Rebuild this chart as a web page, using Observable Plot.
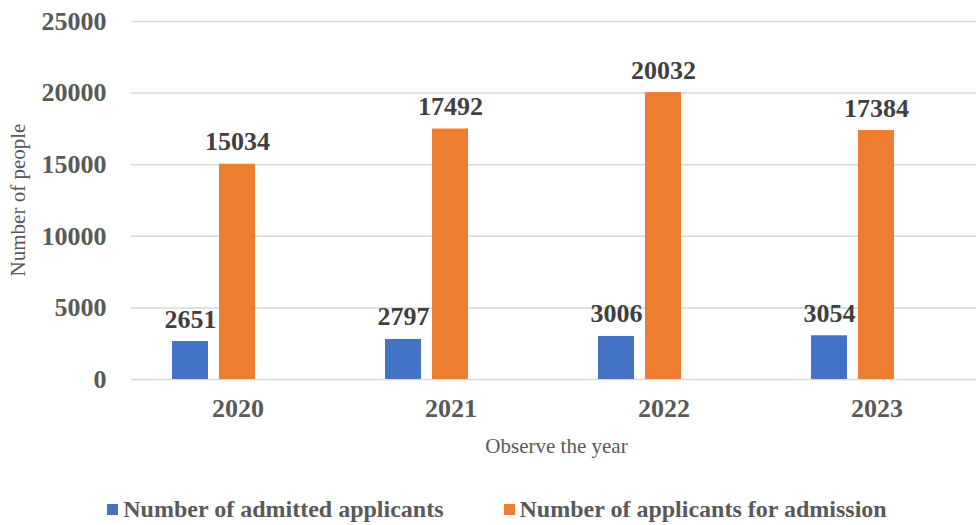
<!DOCTYPE html>
<html>
<head>
<meta charset="utf-8">
<script src="https://cdn.jsdelivr.net/npm/d3@7"></script>
<script src="https://cdn.jsdelivr.net/npm/@observablehq/plot@0.6"></script>
<style>
  body { margin: 0; background: #fff; font-family: "Liberation Serif", "Times New Roman", serif; }
  #legend { display: flex; justify-content: center; gap: 60px; margin-top: 36px; padding-left: 18px; }
  .item { display: flex; align-items: center; font-weight: bold; font-size: 24px; color: #595959; }
  .sw { width: 11px; height: 11px; margin-right: 5px; }
</style>
</head>
<body>
<div id="chart"></div>
<div id="legend"></div>
<script>
const years = ["2020", "2021", "2022", "2023"];
const seriesNames = ["Number of admitted applicants", "Number of applicants for admission"];
const admitted = [2651, 2797, 3006, 3054];
const applicants = [15034, 17492, 20032, 17384];
const yTicks = [0, 5000, 10000, 15000, 20000, 25000];
const colors = ["#4472C4", "#ED7D31"];
const yTitle = "Number of people";
const xTitle = "Observe the year";

const data = years.flatMap((y, i) => [
  {year: y, series: seriesNames[0], value: admitted[i]},
  {year: y, series: seriesNames[1], value: applicants[i]}
]);

const chart = Plot.plot({
  width: 976,
  height: 460,
  marginLeft: 129,
  marginRight: -8,
  marginTop: 21,
  marginBottom: 81,
  style: {fontFamily: "'Liberation Serif', 'Times New Roman', serif", background: "#fff"},
  fx: {domain: years, padding: 0, label: null},
  x: {domain: [...seriesNames, "(none)"], paddingInner: 0.229, paddingOuter: 0.844, axis: null},
  y: {domain: [0, 25000], label: null},
  color: {domain: seriesNames, range: colors},
  marks: [
    Plot.gridY(yTicks, {stroke: "#d9d9d9", strokeOpacity: 1, strokeWidth: 1.5}),
    Plot.axisY(yTicks, {tickSize: 0, tickPadding: 25, fontSize: 26, fontWeight: "bold", fill: "#595959", label: null, tickFormat: d => String(d)}),
    Plot.axisFx({anchor: "bottom", tickSize: 0, tickPadding: 19, fontSize: 26, fontWeight: "bold", fill: "#595959", label: null}),
    Plot.barY(data, {fx: "year", x: "series", y: "value", fill: "series"}),
    Plot.text(data, {fx: "year", x: "series", y: "value", text: d => String(d.value), lineAnchor: "bottom", dy: -14, fontSize: 26, fontWeight: "bold", fill: "#404040"})
  ]
});

document.getElementById("chart").appendChild(chart);

// axis titles
const svg = d3.select(chart);
const fx = chart.scale("fx");
const y = chart.scale("y");
const xMid = (fx.range[0] + fx.range[1]) / 2;
const yMid = (y.range[0] + y.range[1]) / 2;
svg.append("text").attr("x", xMid).attr("y", 453).attr("text-anchor", "middle")
  .attr("font-size", 21).attr("fill", "#595959").text(xTitle);
svg.append("text").attr("transform", `translate(25,${yMid}) rotate(-90)`).attr("text-anchor", "middle")
  .attr("font-size", 21).attr("fill", "#595959").text(yTitle);

// legend
const legend = d3.select("#legend");
seriesNames.forEach((s, i) => {
  const it = legend.append("div").attr("class", "item");
  it.append("div").attr("class", "sw").style("background", colors[i]);
  it.append("span").text(s);
});
</script>
</body>
</html>
